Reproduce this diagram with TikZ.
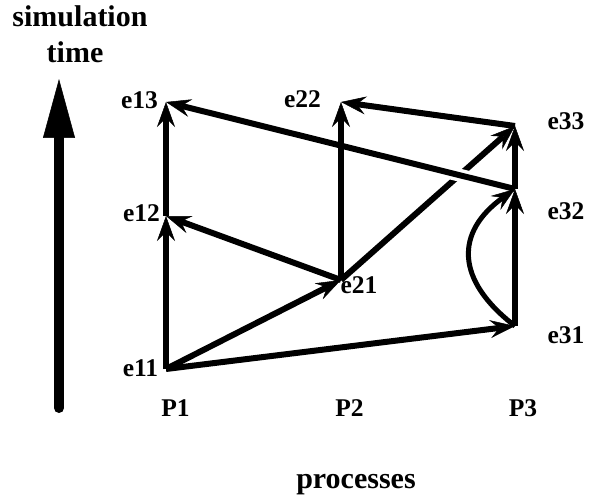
\documentclass[tikz,border=0pt]{standalone}
\usepackage{fontspec}
\setmainfont{Liberation Serif}
\usetikzlibrary{arrows.meta,calc}
\begin{document}
\begin{tikzpicture}[x=1pt,y=-1pt,
  flow/.style={line width=6pt, -{Stealth[length=25pt,width=18pt,inset=9pt,line width=0.5pt]}},
  curvearrow/.style={line width=5pt, -{Stealth[length=24pt,width=17pt,inset=9pt,line width=0.5pt]}},
  lbl/.style={font=\fontsize{25.5}{30}\selectfont\bfseries, anchor=base, inner sep=0pt},
  ttl/.style={font=\fontsize{30}{36}\selectfont\bfseries, anchor=base, inner sep=0pt}]
\useasboundingbox (0,0) rectangle (597,497);
% events
\coordinate (e11) at (166,369);
\coordinate (e12) at (166,216);
\coordinate (e13) at (166,102);
\coordinate (e21) at (341,280);
\coordinate (e22) at (341,102);
\coordinate (e31) at (515,326);
\coordinate (e32) at (515,189);
\coordinate (e33) at (515,126);
% time axis
\coordinate (tb) at (59,408);
\coordinate (tt) at (59,79);
\draw[line width=10pt, line cap=round, -{Triangle[length=59pt,width=32pt,line width=0.5pt]}] (tb) -- (tt);
% labels
\node[ttl] (tsim) at (80,27) {simulation};
\node[ttl] (ttime) at (75,63) {time};
\node[ttl] (tproc) at (356,488) {processes};
\node[lbl] (l13) at (139.5,109) {e13};
\node[lbl] (l12) at (141.5,222) {e12};
\node[lbl] (l11) at (140.5,376) {e11};
\node[lbl] (l22) at (302.5,108) {e22};
\node[lbl] (l21) at (359,293) {e21};
\node[lbl] (l33) at (566,130) {e33};
\node[lbl] (l32) at (566,220) {e32};
\node[lbl] (l31) at (566,343) {e31};
\node[lbl] (p1) at (175.5,416) {P1};
\node[lbl] (p2) at (349.5,416) {P2};
\node[lbl] (p3) at (523,416) {P3};
% process lines
\draw[flow] (e11) -- (e12);
\draw[flow] (e12) -- (e13);
\draw[flow] (e21) -- (e22);
\draw[flow] (e31) -- (e32);
\draw[flow] (e32) -- (e33);
% messages
\draw[flow] (e11) -- (e21);
\draw[flow] (e11) -- (e31);
\draw[flow] (e21) -- (e12);
\draw[flow] (e21) -- (e33);
\coordinate (g1) at ($(e32)!0.13!(e13)$);
\coordinate (g2) at ($(e32)!0.19!(e13)$);
\draw[white, line width=13pt] (g1) -- (g2);
\draw[flow] (e32) -- (e13);
\draw[flow] (e33) -- (e22);
\draw[curvearrow] (e31) .. controls (455,280) and (455,232) .. (e32);
\end{tikzpicture}
\end{document}
